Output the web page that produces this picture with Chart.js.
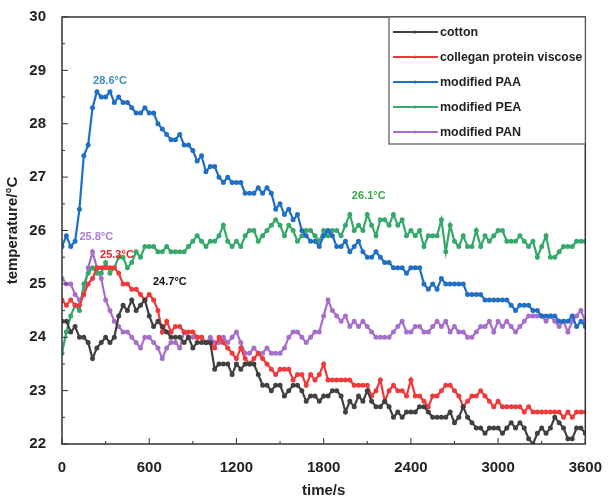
<!DOCTYPE html>
<html lang="en">
  <head>
    <meta charset="UTF-8" />
    <title>Temperature vs time</title>
    <script src="https://cdn.jsdelivr.net/npm/chart.js"></script>
    <style>
      html, body { margin: 0; padding: 0; background: #fff; }
      #wrap { position: relative; width: 609px; height: 504px; }
    </style>
  </head>
  <body>
    <div id="wrap"><canvas id="tempChart" width="609" height="504"></canvas></div>

    <script>
      // sampling times (s), one reading every 30 s
      const times = [
        0, 30, 60, 90, 120, 150, 180, 210, 240, 270, 300, 330, 360, 390, 420, 450, 480, 510, 540, 570,
        600, 630, 660, 690, 720, 750, 780, 810, 840, 870, 900, 930, 960, 990, 1020, 1050, 1080, 1110, 1140, 1170,
        1200, 1230, 1260, 1290, 1320, 1350, 1380, 1410, 1440, 1470, 1500, 1530, 1560, 1590, 1620, 1650, 1680, 1710, 1740, 1770,
        1800, 1830, 1860, 1890, 1920, 1950, 1980, 2010, 2040, 2070, 2100, 2130, 2160, 2190, 2220, 2250, 2280, 2310, 2340, 2370,
        2400, 2430, 2460, 2490, 2520, 2550, 2580, 2610, 2640, 2670, 2700, 2730, 2760, 2790, 2820, 2850, 2880, 2910, 2940, 2970,
        3000, 3030, 3060, 3090, 3120, 3150, 3180, 3210, 3240, 3270, 3300, 3330, 3360, 3390, 3420, 3450, 3480, 3510, 3540, 3570,
        3600
      ];

      const seriesNames = ['cotton', 'collegan protein viscose', 'modified PAA', 'modified PEA', 'modified PAN'];

      const cotton = [
        24.3, 24.3, 24.1, 24.2, 24.0, 24.0, 23.9, 23.6, 23.8, 23.9, 24.0, 23.9, 24.0, 24.4, 24.6, 24.5, 24.7, 24.5, 24.6, 24.7,
        24.4, 24.2, 24.3, 24.2, 24.1, 24.0, 24.0, 24.0, 23.9, 24.0, 23.8, 23.9, 23.9, 23.9, 23.9, 23.4, 23.5, 23.5, 23.5, 23.3,
        23.5, 23.4, 23.5, 23.5, 23.5, 23.3, 23.1, 23.1, 23.0, 23.1, 23.1, 22.9, 23.0, 23.1, 23.1, 23.0, 22.8, 22.9, 22.9, 22.8,
        22.9, 22.9, 23.0, 23.0, 22.9, 22.6, 22.8, 22.7, 22.9, 22.8, 23.0, 22.8, 22.7, 22.7, 22.8, 22.7, 22.5, 22.6, 22.5, 22.6,
        22.6, 22.6, 22.7, 22.7, 22.6, 22.5, 22.5, 22.5, 22.5, 22.6, 22.4, 22.5, 22.7, 22.5, 22.4, 22.3, 22.3, 22.2, 22.3, 22.3,
        22.3, 22.2, 22.3, 22.4, 22.3, 22.4, 22.3, 22.1, 22.0, 22.2, 22.3, 22.2, 22.3, 22.5, 22.4, 22.3, 22.1, 22.1, 22.3, 22.3,
        22.2
      ];
      const collagen = [
        24.7, 24.6, 24.7, 24.6, 24.6, 24.8, 25.0, 25.1, 25.3, 25.3, 25.3, 25.3, 25.3, 25.2, 25.0, 25.0, 24.9, 24.9, 24.8, 24.7,
        24.8, 24.7, 24.5, 24.1, 24.3, 24.1, 24.2, 24.2, 24.1, 24.1, 24.1, 24.0, 24.0, 23.9, 23.9, 23.8, 24.0, 23.9, 23.8, 23.7,
        23.6, 23.8, 23.6, 23.5, 23.6, 23.7, 23.6, 23.5, 23.4, 23.3, 23.4, 23.4, 23.4, 23.2, 23.3, 23.3, 23.1, 23.3, 23.2, 23.3,
        23.5, 23.2, 23.2, 23.2, 23.2, 23.2, 23.2, 23.1, 23.1, 23.1, 23.1, 22.9, 23.0, 23.2, 22.8, 23.0, 23.1, 23.0, 23.0, 22.9,
        23.2, 22.9, 22.9, 22.8, 22.7, 22.9, 22.9, 23.0, 23.1, 23.1, 23.0, 22.9, 22.7, 22.8, 22.9, 22.9, 23.0, 22.9, 22.8, 22.7,
        22.8, 22.7, 22.7, 22.7, 22.7, 22.7, 22.6, 22.7, 22.6, 22.6, 22.6, 22.6, 22.6, 22.6, 22.6, 22.5, 22.6, 22.5, 22.6, 22.6,
        22.6
      ];
      const paa = [
        25.7, 25.9, 25.7, 25.8, 26.4, 27.4, 27.6, 28.3, 28.6, 28.5, 28.5, 28.6, 28.4, 28.5, 28.4, 28.4, 28.3, 28.2, 28.2, 28.3,
        28.2, 28.2, 28.0, 27.9, 27.8, 27.7, 27.7, 27.8, 27.6, 27.6, 27.5, 27.3, 27.4, 27.1, 27.2, 27.2, 27.0, 26.9, 27.0, 26.9,
        26.9, 26.9, 26.7, 26.7, 26.7, 26.8, 26.7, 26.8, 26.7, 26.4, 26.5, 26.3, 26.4, 26.2, 26.3, 26.0, 25.9, 25.8, 25.8, 25.7,
        25.9, 26.0, 25.9, 25.7, 25.7, 25.8, 25.6, 25.7, 25.8, 25.6, 25.5, 25.5, 25.6, 25.5, 25.4, 25.4, 25.3, 25.3, 25.3, 25.2,
        25.3, 25.3, 25.3, 25.0, 24.9, 25.0, 24.9, 25.1, 25.0, 25.0, 25.0, 25.0, 25.0, 24.8, 24.8, 24.8, 24.8, 24.7, 24.7, 24.7,
        24.7, 24.7, 24.7, 24.6, 24.5, 24.6, 24.6, 24.6, 24.5, 24.5, 24.4, 24.4, 24.4, 24.4, 24.3, 24.3, 24.3, 24.4, 24.2, 24.3,
        24.2
      ];
      const pea = [
        23.7, 24.1, 24.4, 24.6, 24.5, 25.0, 25.2, 25.3, 25.2, 25.2, 25.4, 25.2, 25.3, 25.5, 25.5, 25.3, 25.4, 25.6, 25.5, 25.7,
        25.7, 25.7, 25.6, 25.6, 25.7, 25.6, 25.6, 25.6, 25.6, 25.7, 25.8, 25.9, 25.8, 25.7, 25.8, 25.8, 25.9, 26.1, 25.8, 25.7,
        25.8, 25.7, 25.9, 26.0, 26.0, 25.8, 25.9, 26.0, 26.1, 26.2, 26.1, 25.9, 26.1, 26.0, 25.8, 25.9, 26.0, 26.0, 25.9, 25.8,
        26.0, 25.9, 26.0, 26.0, 25.9, 26.1, 26.3, 26.0, 26.1, 26.0, 26.3, 26.1, 25.9, 26.2, 26.2, 26.1, 26.3, 26.1, 26.2, 25.9,
        26.0, 25.9, 26.0, 25.7, 25.9, 25.9, 25.9, 26.2, 25.6, 26.1, 25.8, 25.7, 25.9, 25.7, 25.7, 26.0, 25.7, 25.9, 25.8, 25.9,
        26.0, 26.0, 25.8, 25.8, 25.8, 25.9, 25.8, 25.7, 25.8, 25.5, 25.7, 25.9, 25.5, 25.5, 25.6, 25.7, 25.7, 25.7, 25.8, 25.8,
        25.8
      ];
      const pan = [
        25.1, 25.0, 25.0, 24.8, 24.7, 24.8, 25.3, 25.6, 25.3, 25.1, 24.7, 24.5, 24.3, 24.2, 24.1, 24.1, 24.0, 23.9, 23.8, 24.0,
        24.0, 23.9, 23.8, 23.6, 23.8, 23.9, 23.9, 23.8, 24.1, 24.0, 24.0, 24.0, 24.0, 23.9, 24.0, 23.9, 23.9, 24.0, 23.9, 24.0,
        24.1, 23.9, 23.7, 23.7, 23.8, 23.7, 23.7, 23.8, 23.7, 23.7, 23.7, 23.8, 24.0, 24.1, 24.1, 24.0, 23.9, 24.0, 24.1, 24.1,
        24.4, 24.7, 24.5, 24.4, 24.3, 24.4, 24.2, 24.3, 24.2, 24.3, 24.2, 24.1, 24.0, 24.0, 24.0, 24.0, 24.1, 24.2, 24.3, 24.1,
        24.1, 24.2, 24.2, 24.1, 24.1, 24.2, 24.3, 24.2, 24.3, 24.1, 24.2, 24.1, 24.1, 24.0, 24.0, 24.1, 24.2, 24.2, 24.3, 24.1,
        24.3, 24.2, 24.3, 24.2, 24.1, 24.2, 24.3, 24.4, 24.4, 24.4, 24.4, 24.3, 24.4, 24.3, 24.2, 24.3, 24.1, 24.3, 24.4, 24.5,
        24.3
      ];

      const seriesColors = ['#404040', '#f0393a', '#1f6fc6', '#35a86a', '#a56fcb'];

      // peak labels
      const peakTexts = ['28.6°C', '25.8°C', '25.3°C', '24.7°C', '26.1°C'];
      const peakX = [330, 236, 378, 742, 2110];
      const peakY = [28.8, 25.87, 25.55, 25.03, 26.64];
      const peakColors = ['#3a8ec4', '#b07ad2', '#ee2024', '#111111', '#3aa843'];

      const xTicks = [0, 600, 1200, 1800, 2400, 3000, 3600];
      const yTicks = [22, 23, 24, 25, 26, 27, 28, 29, 30];

      const allSeries = [cotton, collagen, paa, pea, pan];
      const datasets = allSeries.map((vals, k) => ({
        label: seriesNames[k],
        data: vals.map((v, i) => ({ x: times[i], y: v })),
        borderColor: seriesColors[k],
        backgroundColor: seriesColors[k],
        borderWidth: 2.2,
        pointRadius: 1.4,
        pointHoverRadius: 1.4,
        pointStyle: 'circle',
        tension: 0
      }));

      const FONT = '"Liberation Sans", Arial, sans-serif';

      // frame, inward ticks, peak labels and boxed legend
      const decor = {
        id: 'decor',
        afterDatasetsDraw(chart) {
          const { ctx, chartArea: a, scales: { x, y } } = chart;
          ctx.save();
          ctx.strokeStyle = '#333';
          ctx.lineWidth = 1.5;
          ctx.strokeRect(a.left, a.top, a.right - a.left, a.bottom - a.top);

          ctx.lineWidth = 1;
          for (let t = 0; t <= 3600; t += 300) {
            const px = x.getPixelForValue(t);
            const len = t % 600 === 0 ? 6 : 3;
            ctx.beginPath();
            ctx.moveTo(px, a.bottom);
            ctx.lineTo(px, a.bottom - len);
            ctx.stroke();
          }
          for (let v = 22; v <= 30; v += 0.5) {
            const py = y.getPixelForValue(v);
            const len = v % 1 === 0 ? 6 : 3;
            ctx.beginPath();
            ctx.moveTo(a.left, py);
            ctx.lineTo(a.left + len, py);
            ctx.stroke();
          }

          ctx.font = 'bold 11px ' + FONT;
          ctx.textAlign = 'center';
          ctx.textBaseline = 'middle';
          peakTexts.forEach((txt, k) => {
            ctx.fillStyle = peakColors[k];
            ctx.fillText(txt, x.getPixelForValue(peakX[k]), y.getPixelForValue(peakY[k]));
          });

          // legend box
          const lx = 389, ly = a.top, lw = a.right - 389, lh = 127;
          ctx.fillStyle = '#fff';
          ctx.fillRect(lx, ly, lw, lh);
          ctx.strokeStyle = '#555';
          ctx.lineWidth = 1.2;
          ctx.strokeRect(lx, ly, lw, lh);
          ctx.font = 'bold 12.5px ' + FONT;
          ctx.textAlign = 'left';
          chart.data.datasets.forEach((ds, k) => {
            const ry = ly + 15 + k * 25;
            ctx.strokeStyle = ds.borderColor;
            ctx.lineWidth = 2.2;
            ctx.beginPath();
            ctx.moveTo(lx + 4, ry);
            ctx.lineTo(lx + 49, ry);
            ctx.stroke();
            ctx.fillStyle = ds.borderColor;
            ctx.beginPath();
            ctx.arc(lx + 26, ry, 1.5, 0, Math.PI * 2);
            ctx.fill();
            ctx.fillStyle = '#222';
            ctx.fillText(ds.label, lx + 51, ry + 1, lw - 54);
          });
          ctx.restore();
        }
      };

      new Chart(document.getElementById('tempChart'), {
        type: 'line',
        data: { datasets },
        options: {
          responsive: false,
          animation: false,
          layout: { padding: { top: 16, right: 13, left: 0, bottom: 0 } },
          plugins: { legend: { display: false }, tooltip: { enabled: false } },
          scales: {
            x: {
              type: 'linear',
              min: 0,
              max: 3600,
              afterBuildTicks: (s) => { s.ticks = xTicks.map((v) => ({ value: v })); },
              afterFit: (s) => { s.height = 60; },
              grid: { display: false },
              border: { display: false },
              ticks: { color: '#222', padding: 7, callback: (v) => String(v), font: { family: FONT, size: 15, weight: 'bold' }, maxRotation: 0 },
              title: { display: true, text: 'time/s', color: '#222', padding: { top: 8 }, font: { family: FONT, size: 15, weight: 'bold' } }
            },
            y: {
              min: 22,
              max: 30,
              afterBuildTicks: (s) => { s.ticks = yTicks.map((v) => ({ value: v })); },
              afterFit: (s) => { s.width = 62; },
              grid: { display: false },
              border: { display: false },
              ticks: { color: '#222', padding: 8, font: { family: FONT, size: 15, weight: 'bold' } },
              title: { display: true, text: 'temperature/°C', color: '#222', padding: { bottom: 0 }, font: { family: FONT, size: 15, weight: 'bold' } }
            }
          }
        },
        plugins: [decor]
      });
    </script>
  </body>
</html>
